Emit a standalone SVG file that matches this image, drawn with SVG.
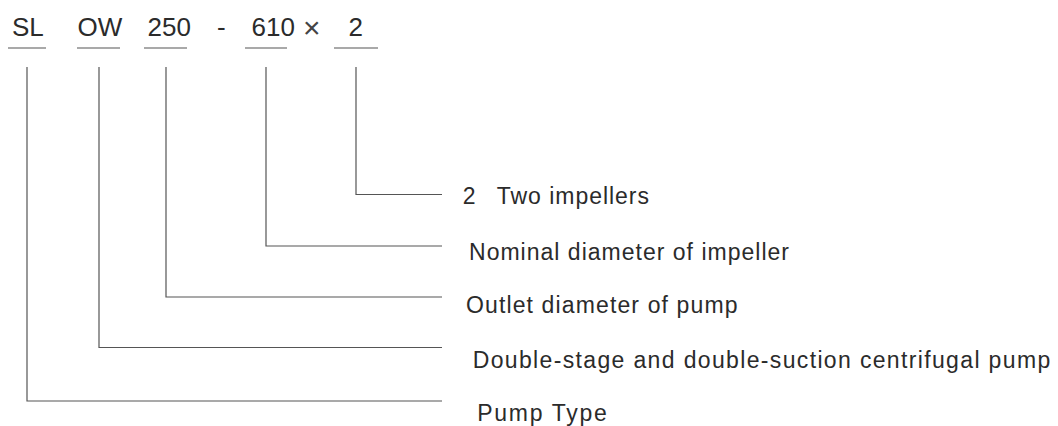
<svg xmlns="http://www.w3.org/2000/svg" width="1058" height="426" viewBox="0 0 1058 426">
<style>
.t{font-family:"Liberation Sans",Arial,sans-serif;fill:#2b2b2b}
.top{font-size:26px}
.lbl{font-size:23px}
.ln{stroke:#555;stroke-width:1.2;fill:none}
</style>
<rect width="1058" height="426" fill="#fff"/>
<g id="code">
<text class="t top" x="12" y="36">SL</text>
<text class="t top" x="77.5" y="36">OW</text>
<text class="t top" x="147.5" y="36">250</text>
<text class="t top" x="217" y="36">-</text>
<text class="t top" x="251.5" y="36">610</text>
<text class="t" x="303" y="37.5" style="font-size:30px;fill:#444">×</text>
<text class="t top" x="348.5" y="36">2</text>
</g>
<g id="underlines">
<line class="ln" x1="8" y1="48" x2="46" y2="48"/>
<line class="ln" x1="77" y1="48" x2="120" y2="48"/>
<line class="ln" x1="144" y1="48" x2="187" y2="48"/>
<line class="ln" x1="245" y1="48" x2="287" y2="48"/>
<line class="ln" x1="334" y1="48" x2="378" y2="48"/>
</g>
<g id="connectors">
<polyline class="ln" points="356,67 356,194.5 442,194.5"/>
<polyline class="ln" points="266,67 266,246 442,246"/>
<polyline class="ln" points="166,67 166,297 442,297"/>
<polyline class="ln" points="99,67 99,347.5 442,347.5"/>
<polyline class="ln" points="27,67 27,401 442,401"/>
</g>
<g id="label-impellers">
<text class="t lbl" x="462.7" y="203.5">2<tspan x="496.7" textLength="152.3" lengthAdjust="spacing">Two impellers</tspan></text>
</g>
<g id="label-nominal">
<text class="t lbl" x="469" y="259.5" textLength="320" lengthAdjust="spacing">Nominal diameter of impeller</text>
</g>
<g id="label-outlet">
<text class="t lbl" x="466" y="312.5" textLength="271.5" lengthAdjust="spacing">Outlet diameter of pump</text>
</g>
<g id="label-type-desc">
<text class="t lbl" x="472.7" y="367.5" textLength="577.5" lengthAdjust="spacing">Double-stage and double-suction centrifugal pump</text>
</g>
<g id="label-pump-type">
<text class="t lbl" x="477.3" y="421" textLength="129.5" lengthAdjust="spacing">Pump Type</text>
</g>
</svg>
